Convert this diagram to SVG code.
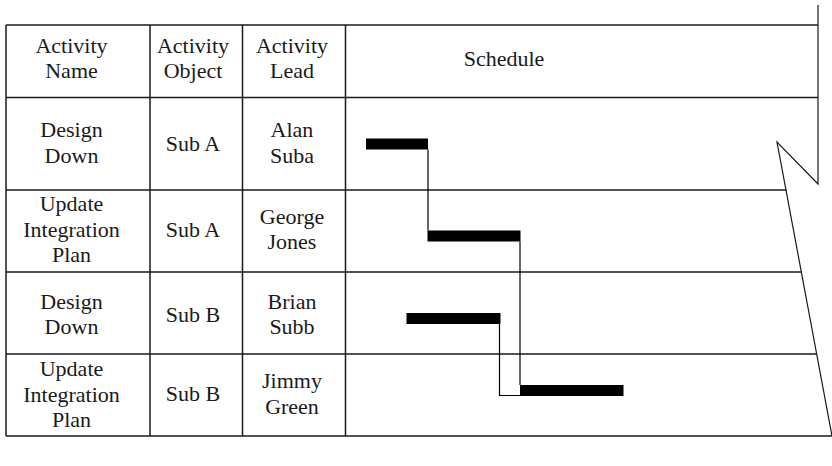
<svg xmlns="http://www.w3.org/2000/svg" width="832" height="466" viewBox="0 0 832 466">
  <style>
    .grid { stroke: #1a1a1a; stroke-width: 1.5; fill: none; }
    .edge { stroke: #1a1a1a; stroke-width: 1.2; fill: none; }
    .link { stroke: #000; stroke-width: 1.2; fill: none; }
    .bar { fill: #000; }
    .lbl { font-family: "Liberation Serif", "Times New Roman", serif; font-size: 22px; fill: #1a1a1a; text-anchor: middle; }
  </style>

  <!-- table frame and grid -->
  <g id="grid">
    <line class="grid" x1="6" y1="25" x2="818" y2="25"/>
    <line class="grid" x1="6" y1="97.5" x2="818" y2="97.5"/>
    <line class="grid" x1="6" y1="190" x2="786.5" y2="190"/>
    <line class="grid" x1="6" y1="272" x2="801.5" y2="272"/>
    <line class="grid" x1="6" y1="354" x2="816.8" y2="354"/>
    <line class="grid" x1="6" y1="436" x2="832" y2="436"/>
    <line class="grid" x1="6" y1="25" x2="6" y2="436"/>
    <line class="grid" x1="150" y1="25" x2="150" y2="436"/>
    <line class="grid" x1="242.5" y1="25" x2="242.5" y2="436"/>
    <line class="grid" x1="345.5" y1="25" x2="345.5" y2="436"/>
    <!-- torn right edge of the schedule area -->
    <polyline class="edge" points="818,5 818,184 777,142 832,436"/>
  </g>

  <g class="lbl">
    <!-- header row -->
    <g id="header">
      <text x="71.5" y="53">Activity</text>
      <text x="71.5" y="78">Name</text>
      <text x="193" y="53">Activity</text>
      <text x="193" y="78">Object</text>
      <text x="292" y="53">Activity</text>
      <text x="292" y="78">Lead</text>
      <text x="504" y="66">Schedule</text>
    </g>

    <g id="row1">
      <text x="71.5" y="137">Design</text>
      <text x="71.5" y="163">Down</text>
      <text x="193" y="150.5">Sub A</text>
      <text x="292" y="137">Alan</text>
      <text x="292" y="163">Suba</text>
    </g>

    <g id="row2">
      <text x="71.5" y="210.5">Update</text>
      <text x="71.5" y="236.5">Integration</text>
      <text x="71.5" y="261.5">Plan</text>
      <text x="193" y="236.5">Sub A</text>
      <text x="292" y="224">George</text>
      <text x="292" y="249">Jones</text>
    </g>

    <g id="row3">
      <text x="71.5" y="309">Design</text>
      <text x="71.5" y="334">Down</text>
      <text x="193" y="321.5">Sub B</text>
      <text x="292" y="309">Brian</text>
      <text x="292" y="334">Subb</text>
    </g>

    <g id="row4">
      <text x="71.5" y="376">Update</text>
      <text x="71.5" y="401.5">Integration</text>
      <text x="71.5" y="426.5">Plan</text>
      <text x="193" y="401">Sub B</text>
      <text x="292" y="388">Jimmy</text>
      <text x="292" y="414">Green</text>
    </g>
  </g>

  <!-- schedule bars -->
  <g id="bar1"><rect class="bar" x="366" y="138.5" width="62" height="11"/></g>
  <g id="bar2"><rect class="bar" x="427.5" y="230.5" width="93" height="11"/></g>
  <g id="bar3"><rect class="bar" x="406.5" y="313" width="94" height="11"/></g>
  <g id="bar4"><rect class="bar" x="520" y="385" width="103.5" height="11"/></g>

  <!-- dependency lines between bars -->
  <g id="connectors">
    <polyline class="link" points="428,149.5 428,230.5"/>
    <polyline class="link" points="520,241.5 520,385"/>
    <polyline class="link" points="499.5,324 499.5,395.5 520,395.5"/>
  </g>
</svg>
